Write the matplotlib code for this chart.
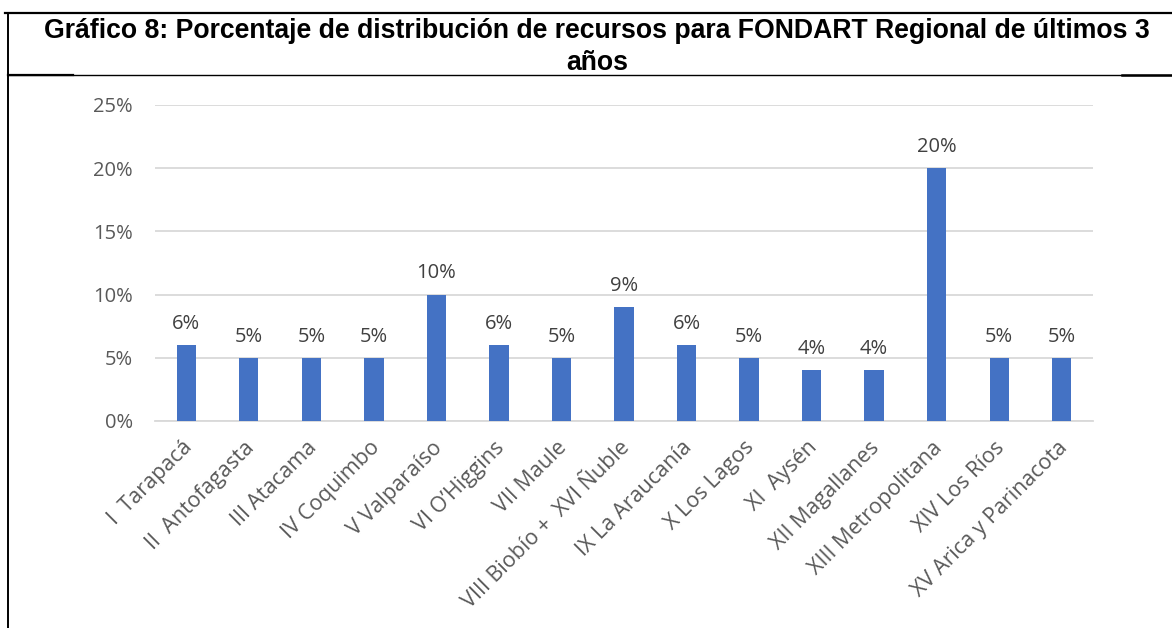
#Imports packages and dependencies
import matplotlib
matplotlib.use('Agg')
import matplotlib.pyplot as plt
import matplotlib.transforms as mtrans
from matplotlib.lines import Line2D
from matplotlib.ticker import FuncFormatter

#Regions and share of resources (%)
regiones = ['I  Tarapacá', 'II  Antofagasta', 'III Atacama', 'IV Coquimbo',
            'V Valparaíso', 'VI O\u2019Higgins', 'VII Maule',
            'VIII Biobío +  XVI Ñuble', 'IX La Araucanía', 'X Los Lagos',
            'XI  Aysén', 'XII Magallanes', 'XIII Metropolitana',
            'XIV Los Ríos', 'XV Arica y Parinacota']
porcentajes = [6, 5, 5, 5, 10, 6, 5, 9, 6, 5, 4, 4, 20, 5, 5]
yticks = [0, 5, 10, 15, 20, 25]
titulo = 'Gráfico 8: Porcentaje de distribución de recursos para FONDART Regional de últimos 3\naños'

W, H = 1172, 628
fig = plt.figure(figsize=(W / 100, H / 100), dpi=100)
ax = fig.add_axes([155 / W, 1 - 421 / H, (1093 - 155) / W, (421 - 105) / H])

xs = list(range(len(regiones)))
ax.bar(xs, porcentajes, width=0.31, color='#4472C4', zorder=3)
for x, v in zip(xs, porcentajes):
    ax.annotate('{}%'.format(v), (x, v), xytext=(0, 8), textcoords='offset points',
                ha='center', va='bottom', fontsize=14.5, color='#404040',
                family='Open Sans')

ax.set_xlim(-0.5, len(regiones) - 0.5)
ax.set_ylim(0, 25)
ax.set_yticks(yticks)
ax.yaxis.set_major_formatter(FuncFormatter(lambda v, p: '{:.0f}%'.format(v)))
ax.grid(axis='y', color='#D9D9D9', linewidth=1.3, zorder=0)

#Category labels, rotated, anchored below each bar
ax.set_xticks(xs)
ax.set_xticklabels([])
shift = mtrans.ScaledTranslation(-0.05, -(8 / 72 + 0.05), fig.dpi_scale_trans)
for x, name in zip(xs, regiones):
    ax.text(x, 0, name, transform=ax.get_xaxis_transform() + shift,
            rotation=45, ha='right', va='top', rotation_mode='anchor',
            fontsize=15.5, color='#595959', family='Open Sans')

for lbl in ax.get_yticklabels():
    lbl.set_fontsize(14.5)
    lbl.set_color('#595959')
    lbl.set_family('Open Sans')
ax.tick_params(axis='both', length=0)
ax.tick_params(axis='y', pad=16)
for s in ['top', 'right', 'left']:
    ax.spines[s].set_visible(False)
ax.spines['bottom'].set_color('#D9D9D9')
ax.spines['bottom'].set_linewidth(1.3)

#Title box lines
fig.add_artist(Line2D([5 / W, 1], [1 - 13 / H, 1 - 13 / H], color='black', linewidth=1.6))
fig.add_artist(Line2D([8 / W, 8 / W], [1 - 13 / H, 0], color='black', linewidth=1.4))
fig.add_artist(Line2D([8 / W, 1], [1 - 75 / H, 1 - 75 / H], color='black', linewidth=1.0))
fig.add_artist(Line2D([8 / W, 73 / W], [1 - 75 / H, 1 - 75 / H], color='black', linewidth=1.6))
fig.add_artist(Line2D([1122 / W, 1], [1 - 75 / H, 1 - 75 / H], color='black', linewidth=1.8))

fig.text(597 / W, 1 - 47 / H, titulo, ha='center', va='center', fontsize=19.2,
         fontweight='bold', family='Liberation Sans', linespacing=1.3)

fig.savefig('out.png', dpi=100)
